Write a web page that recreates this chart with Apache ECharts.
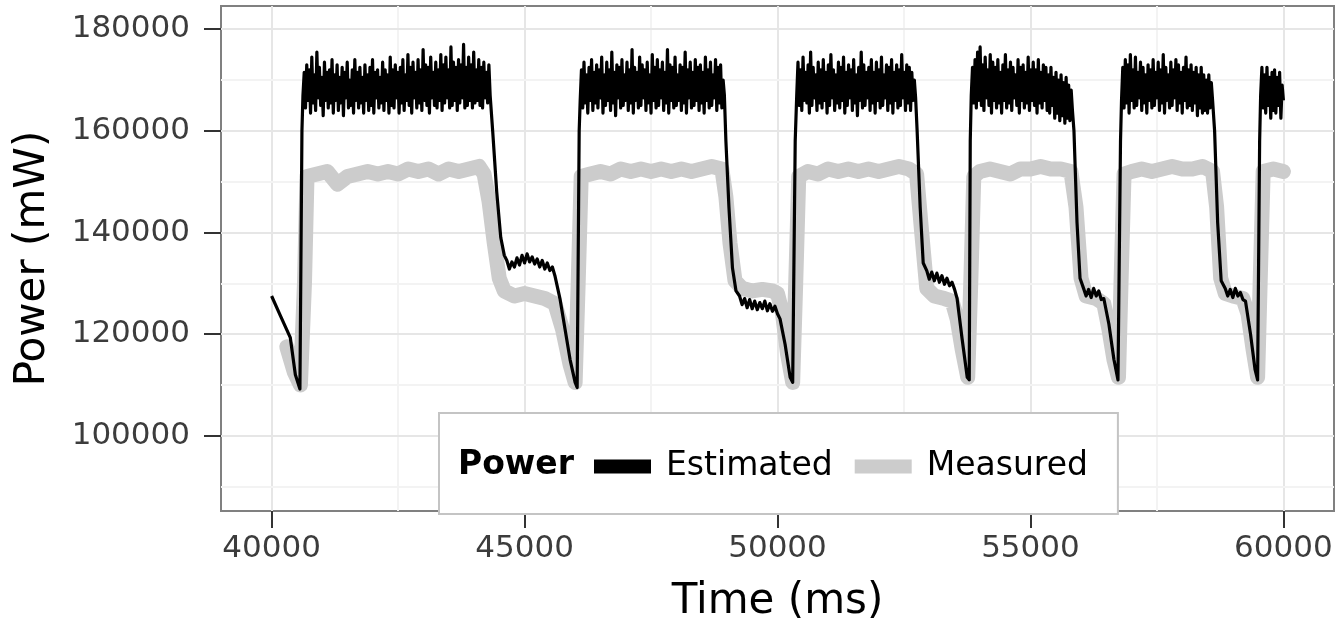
<!DOCTYPE html>
<html><head><meta charset="utf-8">
<script src="https://cdn.jsdelivr.net/npm/echarts@6/dist/echarts.min.js"></script>
<style>html,body{margin:0;padding:0;background:#fff}#c{width:1342px;height:628px}</style>
</head><body><div id="c"></div>
<script>
// ---- tick values ----
const xTicks = [40000, 45000, 50000, 55000, 60000];
const yTicks = [100000, 120000, 140000, 160000, 180000];
const xMinor = [42500, 47500, 52500, 57500];
const yMinor = [90000, 110000, 130000, 150000, 170000];
const seriesNames = ['Estimated', 'Measured'];

// ---- Estimated: sampled noisy plateaus (25 ms apart) and the transitions between them ----
const sampleStep = 25;
const estHighStart = [40620, 46100, 50380, 53830, 56800, 59550];
const estHigh1 = [
 167000,171500,164500,173000,166000,172000,163500,174500,165500,171000,
 164000,175500,166500,172500,165000,170500,163000,173500,166000,171500,
 164500,172000,165500,174000,163500,171000,166000,173000,164000,170500,
 165500,172500,163000,171500,166500,173500,164500,170000,165000,172000,
 163500,174000,166000,171500,164500,172500,165500,170500,163500,173000,
 166000,171000,164000,172500,165000,174000,163500,171500,166500,172000,
 164500,170500,165500,173500,164000,172000,166000,171000,163500,174500,
 165000,172000,164500,173000,166500,171500,163500,172500,165500,174000,
 164000,171000,166000,175000,165000,172500,163500,173500,166500,171500,
 164500,174000,165500,172000,164000,176000,166000,173000,165000,172500,
 163500,174500,166500,171500,165000,173500,164500,172000,166000,175000,
 164000,173000,165500,174500,166500,172000,164500,176500,165000,173500,
 166000,172500,164000,174000,165500,173000,166500,177000,164500,172500,
 165000,174500,166000,173000,164500,175500,165500,172000,166000,174000,
 165000,172500,164500,173500,166500,171500,165500,173000,167000];
const estHigh2 = [
 166000,172000,164500,173500,165500,171000,163500,172500,166000,174000,
 164000,171500,165500,173000,164500,172000,166500,174500,163500,171000,
 165000,173500,166000,172000,164000,175500,165500,171500,163000,173000,
 166500,172500,164500,174000,165000,171000,166000,173500,164000,172000,
 165500,176000,163500,172500,166000,171500,164500,174500,165000,173000,
 166500,172000,164000,173500,165500,171000,163500,175000,166000,172500,
 164500,174000,165000,172000,166500,173500,164000,171500,165500,176000,
 163500,173000,166000,172500,164500,174500,165000,171000,166000,173000,
 164000,172500,165500,175500,163500,172000,166500,173500,164500,171500,
 165000,174000,166000,172500,164000,173000,165500,171500,163500,174500,
 166000,172000,164500,173500,165000,171000,166500,174000,164000,172500,
 165500,173000,164500,170000,167000];
const estHigh3 = [
 167000,173500,165000,172000,164000,174500,166000,171500,165500,173000,
 163500,175500,165000,172500,166500,171000,164000,173500,165500,172000,
 164500,174000,166000,171500,163500,173000,165000,175000,166500,172000,
 164000,171000,165500,173500,164500,172500,166000,174500,163500,171500,
 165000,173000,166500,172000,164000,174000,165500,171000,163000,172500,
 166000,175500,164500,173000,165000,171500,166500,172500,164000,174000,
 165500,171500,163500,173500,166000,172000,164500,174500,165000,171000,
 166500,173000,164000,172500,165500,174000,163500,171500,166000,173000,
 164500,172000,165000,175000,166500,171500,164000,173000,165500,172500,
 164000,171500,166000,170000,166500];
const estHigh4 = [
 167000,172500,165500,174000,164500,175500,166000,176500,165000,173000,
 164000,174500,166500,172000,165000,175000,163500,173500,166000,172500,
 164500,174000,165500,171500,163500,173000,166000,175000,164500,172000,
 165500,173500,164000,172500,166500,171000,165000,174000,163500,172500,
 166000,173000,164500,171500,165500,174500,164000,172000,166000,173500,
 165000,172000,163500,174000,165500,171500,164500,173000,166000,172500,
 164000,171000,163500,172500,165000,170500,162500,171500,163500,170000,
 162000,171000,163000,169500,161500,170500,162500,169000,162000,168000,
 164000];
const estHigh5 = [
 166000,172500,164500,174000,165500,173000,163500,175000,166000,172000,
 164500,174500,165000,171500,166500,173500,164000,172500,165500,171000,
 163500,173000,166000,172000,164500,174000,165000,171500,166500,173500,
 164000,172000,165500,175000,163500,172500,166000,171000,164500,173500,
 165000,172000,166500,174000,164000,173000,165500,171500,163500,172500,
 166000,174500,164500,172000,165000,173000,164000,171500,165500,172500,
 163000,171000,164500,172500,163500,171000,164000,170000,163500,171000,
 164500,169500,166000];
const estHigh6 = [
 167000,172500,164500,171000,163500,172500,165000,170500,162500,171500,
 164000,172000,163500,170500,165000,171500,162500,169000,166000];
const estHighs = [estHigh1, estHigh2, estHigh3, estHigh4, estHigh5, estHigh6];

const estLead = [[40000,127500],[40180,123500],[40370,119300],[40470,112000],[40560,109200],[40600,160000]];
const estFall1 = [[44370,160000],[44450,148000],[44530,139000],[44600,135500],
 [44650,134500],[44700,132800],[44750,134200],[44800,133200],[44850,135000],[44900,133600],[44950,135500],
 [45000,134000],[45050,135800],[45100,134200],[45150,135200],[45200,133800],[45250,134800],[45300,133200],
 [45350,134500],[45400,132800],[45450,134000],[45500,132500],[45550,133200],[45600,131500],
 [45700,127000],[45800,121000],[45900,115000],[46000,110500],[46040,109500],[46080,160000]];
const estFall2 = [[48980,158000],[49040,145000],[49110,133000],[49180,128500],
 [49250,127500],[49300,125800],[49350,127000],[49400,125200],[49450,126800],[49500,125000],[49550,126500],
 [49600,124800],[49650,126200],[49700,125000],[49750,126500],[49800,124600],[49850,126000],[49900,124500],
 [49950,125500],[50000,124000],[50050,123000],[50150,118000],[50250,111500],[50300,110500],[50350,158000]];
const estFall3 = [[52760,160000],[52820,145000],[52880,134000],
 [52950,132500],[53000,130800],[53050,132200],[53100,130500],[53150,132000],[53200,130200],[53250,131500],
 [53300,129800],[53350,131000],[53400,129500],[53450,130200],[53500,128800],
 [53550,127000],[53650,119000],[53750,111500],[53790,111000],[53810,158000]];
const estFall4 = [[55860,160000],[55920,142000],[55980,131000],
 [56050,129000],[56100,127500],[56150,128800],[56200,127200],[56250,129000],[56300,127500],[56350,128500],
 [56400,126800],[56450,127000],[56550,122000],[56650,115000],[56730,111000],[56780,158000]];
const estFall5 = [[58640,160000],[58700,142000],[58770,130500],
 [58850,129000],[58900,127500],[58950,128800],[59000,127200],[59050,129000],[59100,127500],[59150,128200],
 [59200,126800],[59250,126500],[59350,120000],[59440,113000],[59490,111000],[59530,158000]];
const estFalls = [estFall1, estFall2, estFall3, estFall4, estFall5];

// ---- Measured ----
const measured = [
 [40300,117500],[40450,112500],[40570,110000],[40650,130000],[40700,151000],[40900,151500],[41100,152000],
 [41300,149500],[41500,151000],[41700,151500],[41900,152000],[42100,151500],[42300,152000],[42500,151500],
 [42700,152500],[42900,152000],[43100,152500],[43300,151500],[43500,152500],[43700,152000],[43900,152500],
 [44100,153000],[44200,151500],[44300,146000],[44400,138000],[44500,131000],[44600,128500],[44800,127500],
 [45000,128000],[45200,127500],[45400,127000],[45600,126000],[45750,121000],[45900,114000],[46000,110500],
 [46060,130000],[46120,151000],[46300,151500],[46500,152000],[46700,151500],[46900,152500],[47100,152000],
 [47300,152500],[47500,152000],[47700,152500],[47900,152000],[48100,152500],[48300,152000],[48500,152500],
 [48700,153000],[48900,152500],[48980,147000],[49060,138000],[49160,130500],[49300,129000],[49500,128500],
 [49700,128800],[49900,128500],[50000,128000],[50100,124000],[50200,116000],[50300,110500],[50360,130000],[50420,151000],
 [50600,152000],[50800,151500],[51000,152500],[51200,152000],[51400,152500],[51600,152000],[51800,152500],
 [52000,152000],[52200,152500],[52400,153000],[52600,152500],[52750,151500],[52850,140000],[52950,129000],
 [53100,127500],[53300,127000],[53450,126500],[53550,123000],[53650,117000],[53760,111500],[53820,130000],
 [53880,151000],[54000,152000],[54200,152500],[54400,152000],[54600,151500],[54800,152500],[55000,152500],
 [55200,153000],[55400,152500],[55600,152500],[55800,152000],[55900,145000],[56000,131000],[56100,127500],
 [56300,127000],[56450,126000],[56550,121000],[56650,115000],[56740,111500],[56790,130000],[56850,151500],
 [57000,152000],[57200,152500],[57400,152000],[57600,152500],[57800,153000],[58000,152500],[58200,152500],
 [58400,153000],[58600,152000],[58680,145000],[58760,131000],[58850,128000],[59000,127500],[59200,127000],
 [59300,124000],[59400,117000],[59490,111500],[59540,130000],[59600,152000],[59800,152500],[60000,152000]];

// ---- assemble estimated series ----
const estimated = [].concat(estLead);
estHighs.forEach((vals, k) => {
  vals.forEach((v, i) => estimated.push([estHighStart[k] + i * sampleStep, v]));
  if (k < estFalls.length) estFalls[k].forEach(p => estimated.push(p));
});

const FONT = 'DejaVu Sans';
const gridLines = []
  .concat(xTicks.map(v => ({xAxis: v, lineStyle: {color: '#e6e6e6', width: 2, type: 'solid'}})))
  .concat(xMinor.map(v => ({xAxis: v, lineStyle: {color: '#f3f3f3', width: 2, type: 'solid'}})))
  .concat(yTicks.map(v => ({yAxis: v, lineStyle: {color: '#e6e6e6', width: 2, type: 'solid'}})))
  .concat(yMinor.map(v => ({yAxis: v, lineStyle: {color: '#f3f3f3', width: 2, type: 'solid'}})));

const chart = echarts.init(document.getElementById('c'), null, {renderer: 'canvas'});
chart.setOption({
  animation: false,
  backgroundColor: '#fff',
  textStyle: {fontFamily: FONT},
  grid: {left: 221, right: 8, top: 6, bottom: 114, show: true, borderColor: '#808080', borderWidth: 2, backgroundColor: 'transparent', containLabel: false},
  xAxis: {
    type: 'value', min: 39000, max: 61000,
    axisLine: {show: false},
    splitLine: {show: false},
    axisTick: {show: true, customValues: xTicks, length: 17, lineStyle: {color: '#333', width: 2}},
    axisLabel: {customValues: xTicks, fontSize: 31, color: '#3c3c3c', margin: 22, fontFamily: FONT, formatter: v => String(v)},
    name: 'Time (ms)', nameLocation: 'middle', nameGap: 70,
    nameTextStyle: {fontSize: 42, color: '#000', fontFamily: FONT}
  },
  yAxis: {
    type: 'value', min: 85200, max: 184560,
    axisLine: {show: false},
    splitLine: {show: false},
    axisTick: {show: true, customValues: yTicks, length: 17, lineStyle: {color: '#333', width: 2}},
    axisLabel: {customValues: yTicks, fontSize: 31, color: '#3c3c3c', margin: 31, fontFamily: FONT, formatter: v => String(v)},
    name: 'Power (mW)', nameLocation: 'middle', nameGap: 167, nameRotate: 90,
    nameTextStyle: {fontSize: 42, color: '#000', fontFamily: FONT}
  },
  legend: {
    data: [{name: seriesNames[0], itemStyle: {color: '#000'}}, {name: seriesNames[1], itemStyle: {color: '#cccccc'}}],
    left: 439, top: 413, orient: 'horizontal',
    icon: 'rect', itemWidth: 57, itemHeight: 14, itemGap: 22,
    padding: [37, 30, 31, 155],
    backgroundColor: '#fff', borderColor: '#c4c4c4', borderWidth: 2,
    textStyle: {fontSize: 33, color: '#000', fontFamily: FONT, padding: [0, 0, 0, 10]},
    selectedMode: false, z: 10
  },
  graphic: [{
    type: 'text', left: 458, top: 449, z: 100,
    style: {text: 'Power', fontSize: 33, fontWeight: 'bold', fontFamily: FONT, fill: '#000'}
  }],
  series: [
    {
      name: seriesNames[1], type: 'line', data: measured, showSymbol: false, color: '#cccccc',
      lineStyle: {color: '#cccccc', width: 15, cap: 'round', join: 'round'}, z: 2,
      markLine: {silent: true, symbol: 'none', z: 1, label: {show: false}, data: gridLines, animation: false}
    },
    {
      name: seriesNames[0], type: 'line', data: estimated, showSymbol: false, color: '#000',
      lineStyle: {color: '#000', width: 3.2, join: 'round'}, z: 3
    }
  ]
});
</script></body></html>
